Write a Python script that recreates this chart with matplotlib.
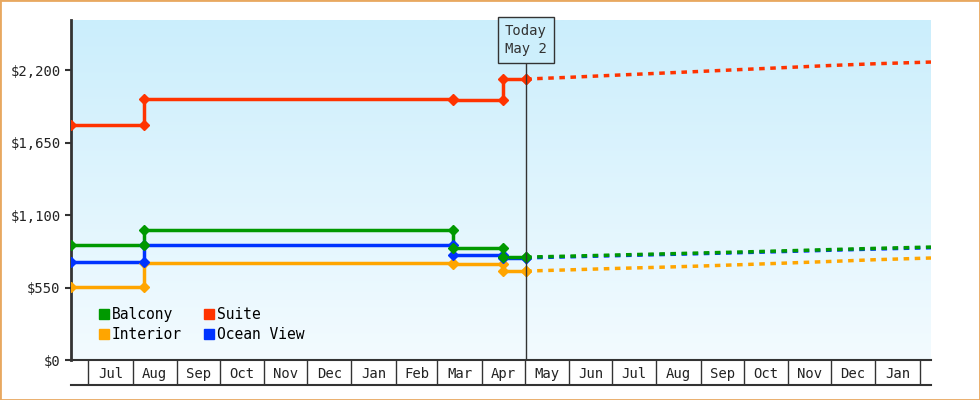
import matplotlib
matplotlib.use("Agg")
import matplotlib.pyplot as plt
import matplotlib.dates as mdates
import numpy as np
from datetime import date
from matplotlib.colors import LinearSegmentedColormap

# ---- data ----
change_dates = ["2023-06-19", "2023-08-09", "2024-03-12", "2024-04-16", "2024-05-02"]
suite = [1783, 1980, 1975, 2132, 2132]
balcony = [873, 986, 850, 781, 781]
ocean = [744, 873, 797, 774, 774]
interior = [554, 736, 728, 675, 675]

fc_dates = ["2024-05-02", "2024-06-01", "2024-07-01", "2024-08-01", "2024-09-01", "2024-10-01",
            "2024-11-01", "2024-12-01", "2025-01-01", "2025-02-09"]
suite_fc = [2132, 2145, 2160, 2175, 2190, 2205, 2220, 2235, 2248, 2261]
balcony_fc = [781, 788, 796, 804, 812, 820, 829, 838, 847, 857]
ocean_fc = [775, 783, 791, 799, 807, 815, 824, 833, 842, 852]
interior_fc = [675, 684, 694, 703, 713, 724, 736, 748, 761, 774]

month_labels = ["Jul", "Aug", "Sep", "Oct", "Nov", "Dec", "Jan", "Feb", "Mar", "Apr",
                "May", "Jun", "Jul", "Aug", "Sep", "Oct", "Nov", "Dec", "Jan"]
yticks = [0, 550, 1100, 1650, 2200]
today = "2024-05-02"

series = [("Balcony", balcony, balcony_fc, "#009900"),
          ("Interior", interior, interior_fc, "#ffa500"),
          ("Suite", suite, suite_fc, "#ff3300"),
          ("Ocean View", ocean, ocean_fc, "#0033ff")]
draw_order = ["Interior", "Ocean View", "Balcony", "Suite"]

plt.rcParams["font.family"] = "DejaVu Sans Mono"
fig = plt.figure(figsize=(9.8, 4.0), dpi=100)
fig.patches.append(plt.Rectangle((0, 0), 1, 1, transform=fig.transFigure, fill=False,
                                 edgecolor="#e8a860", linewidth=2))
ax = fig.add_axes([71/980, 0.1, 860/980, 0.85])

d0 = mdates.date2num(date(2023, 6, 19)); d1 = mdates.date2num(date(2025, 2, 9))
ax.set_xlim(d0, d1)
ax.set_ylim(0, 2580)
grad = np.linspace(0, 1, 256).reshape(-1, 1)
cmap = LinearSegmentedColormap.from_list("bg", ["#f3fbff", "#cbeefc"])
ax.imshow(grad, extent=[d0, d1, 0, 2580], origin="lower", aspect="auto", cmap=cmap, zorder=0)

cd = [mdates.datestr2num(s) for s in change_dates]
fd = [mdates.datestr2num(s) for s in fc_dates]
handles = {}
for name in draw_order:
    _, vals, fc, col = next(s for s in series if s[0] == name)
    ax.plot(cd, vals, drawstyle="steps-post", color=col, lw=2.5, zorder=3)
    mx = cd + cd[1:]
    my = vals + vals[:-1]
    ax.plot(mx, my, "D", color=col, ms=5, zorder=4, ls="none")
    ax.plot(fd, fc, color=col, lw=2.5, ls=(0, (1.6, 1.6)), zorder=3)
for name, _, _, col in series:
    handles[name] = ax.plot([], [], "s", color=col, ms=7)[0]

ax.legend([handles[s[0]] for s in series], [s[0] for s in series], ncol=2,
          loc="lower left", bbox_to_anchor=(0.015, 0.015), frameon=False,
          handletextpad=0.0, columnspacing=1.4, labelspacing=0.35, fontsize=10.5,
          handlelength=1.0)

t = mdates.datestr2num(today)
ax.axvline(t, color="#333333", lw=1, ymax=300/340, zorder=5)
ax.text(t, 2580 - 20/0.1318, "Today\nMay 2", ha="center", va="center", fontsize=10,
        color="#333333", zorder=6, linespacing=1.4,
        bbox=dict(boxstyle="square,pad=0.5", fc="#cdeffc", ec="#333333", lw=1))

# x axis month boxes
bounds = []
y, m = 2023, 7
for _ in range(len(month_labels) + 1):
    bounds.append(mdates.date2num(date(y, m, 1)))
    m += 1
    if m > 12:
        m, y = 1, y + 1
mids = [(a + b) / 2 for a, b in zip(bounds[:-1], bounds[1:])]
ax.set_xticks(bounds)
ax.set_xticklabels([])
ax.tick_params(axis="x", which="major", length=18, width=1, color="#333333", direction="out")
ax.set_xticks(mids, minor=True)
ax.set_xticklabels(month_labels, minor=True, fontsize=10, color="#222222")
ax.tick_params(axis="x", which="minor", length=0, pad=5)
ax.plot([0, 1], [-25/340, -25/340], transform=ax.transAxes, color="#333333", lw=1.5, clip_on=False)

ax.set_yticks(yticks)
ax.set_yticklabels(["$" + format(v, ",") for v in yticks], fontsize=10, color="#222222")
ax.tick_params(axis="y", length=4, width=1.5, color="#333333")
for s in ["top", "right"]:
    ax.spines[s].set_visible(False)
ax.spines["left"].set_linewidth(2); ax.spines["left"].set_color("#333333")
ax.spines["bottom"].set_linewidth(1.5); ax.spines["bottom"].set_color("#333333")

fig.savefig("out.png", dpi=100)
